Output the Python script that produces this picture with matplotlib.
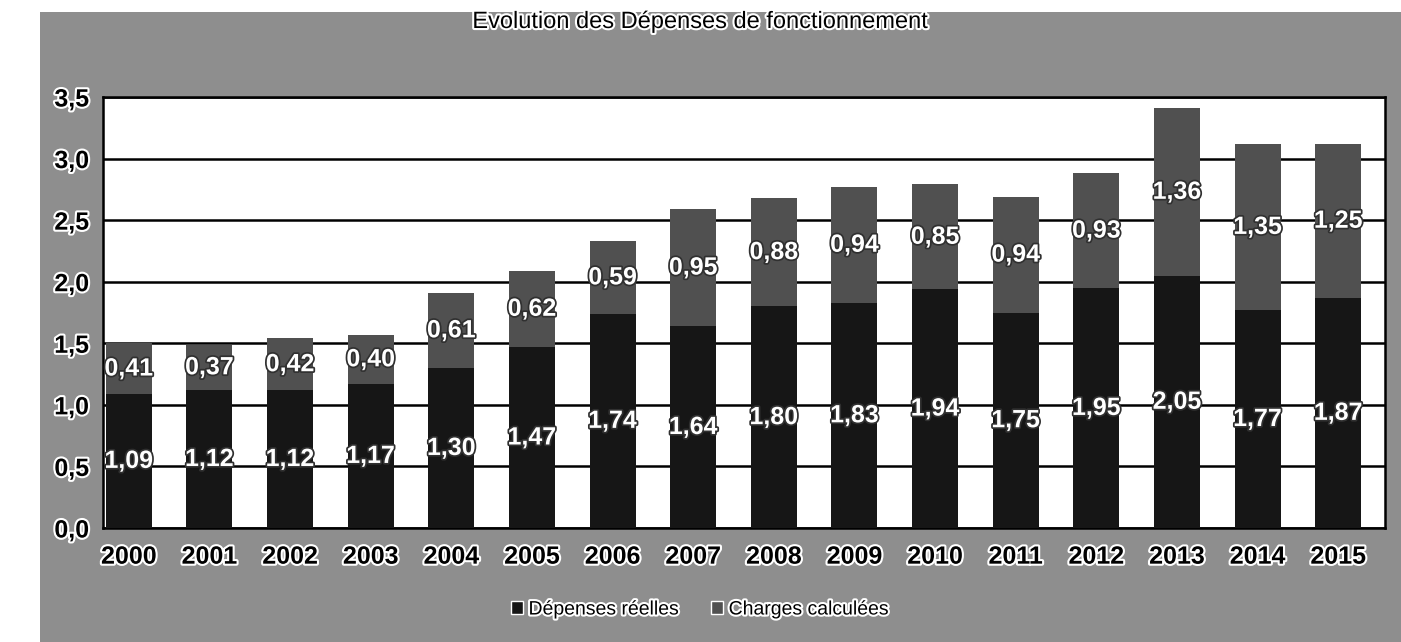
import matplotlib
matplotlib.use("Agg")
import matplotlib.pyplot as plt
import matplotlib.patheffects as pe
from matplotlib.patches import Rectangle, Patch
import numpy as np

plt.rcParams['font.family'] = ['Liberation Sans', 'DejaVu Sans']

years = ['2000', '2001', '2002', '2003', '2004', '2005', '2006', '2007',
         '2008', '2009', '2010', '2011', '2012', '2013', '2014', '2015']
depenses_reelles = [1.09, 1.12, 1.12, 1.17, 1.30, 1.47, 1.74, 1.64,
                    1.80, 1.83, 1.94, 1.75, 1.95, 2.05, 1.77, 1.87]
charges_calculees = [0.41, 0.37, 0.42, 0.40, 0.61, 0.62, 0.59, 0.95,
                     0.88, 0.94, 0.85, 0.94, 0.93, 1.36, 1.35, 1.25]
yticks = [0.0, 0.5, 1.0, 1.5, 2.0, 2.5, 3.0, 3.5]
ytick_labels = ['0,0', '0,5', '1,0', '1,5', '2,0', '2,5', '3,0', '3,5']

W, H = 1401, 642
fig = plt.figure(figsize=(W / 100, H / 100), dpi=100)
fig.patch.set_facecolor('white')
fig.patches.append(Rectangle((40 / W, 0), 1 - 40 / W, 1 - 12 / H,
                             transform=fig.transFigure, facecolor='#8e8e8e',
                             edgecolor='none', zorder=-10))

ax = fig.add_axes([103 / W, 1 - 528 / H, (1385 - 103) / W, (528 - 97) / H])
ax.set_zorder(1)
ax.set_facecolor('white')
x = np.arange(len(years))
dark = '#161616'
grey = '#505050'
ax.bar(x, depenses_reelles, width=0.57, color=dark, zorder=3)
ax.bar(x, charges_calculees, width=0.57, bottom=depenses_reelles, color=grey, zorder=3)

halo = [pe.withStroke(linewidth=2.5, foreground='#303030')]
for i in range(len(years)):
    d = depenses_reelles[i]
    c = charges_calculees[i]
    ax.text(i, d / 2, f"{d:.2f}".replace('.', ','), ha='center', va='center',
            color='white', fontsize=18, fontweight='bold', zorder=5, path_effects=halo)
    ax.text(i, d + c / 2, f"{c:.2f}".replace('.', ','), ha='center', va='center',
            color='white', fontsize=18, fontweight='bold', zorder=5, path_effects=halo)

ax.set_xlim(-0.32, len(years) - 1 + 0.58)
ax.set_ylim(0, 3.5)
ax.set_yticks(yticks)
ax.set_yticklabels(ytick_labels)
ax.set_xticks(x)
ax.set_xticklabels(years)
ax.yaxis.grid(True, color='black', linewidth=1.8, zorder=1)
ax.set_axisbelow(True)
for s in ax.spines.values():
    s.set_color('black')
    s.set_linewidth(1.8)
ax.tick_params(length=0)
white_halo = [pe.withStroke(linewidth=3, foreground='white')]
for lbl in ax.get_xticklabels():
    lbl.set_fontsize(18)
    lbl.set_fontweight('bold')
    lbl.set_path_effects(white_halo)
for lbl in ax.get_yticklabels():
    lbl.set_fontsize(18)
    lbl.set_fontweight('bold')
    lbl.set_path_effects(white_halo)
ax.tick_params(axis='x', pad=12)
ax.tick_params(axis='y', pad=10)

fig.text(0.5, 1 - 22 / H, 'Evolution des Dépenses de fonctionnement', ha='center',
         va='center', fontsize=17, color='black', path_effects=white_halo)

handles = [Patch(facecolor=dark, edgecolor='white'), Patch(facecolor=grey, edgecolor='white')]
leg = fig.legend(handles, ['Dépenses réelles', 'Charges calculées'], loc='center',
                 bbox_to_anchor=(0.5, 1 - 610 / H), ncol=2, frameon=False, fontsize=14,
                 handlelength=0.6, handleheight=0.6, handletextpad=0.3, columnspacing=1.6)
for t in leg.get_texts():
    t.set_path_effects(white_halo)

fig.savefig('out.png', dpi=100)
